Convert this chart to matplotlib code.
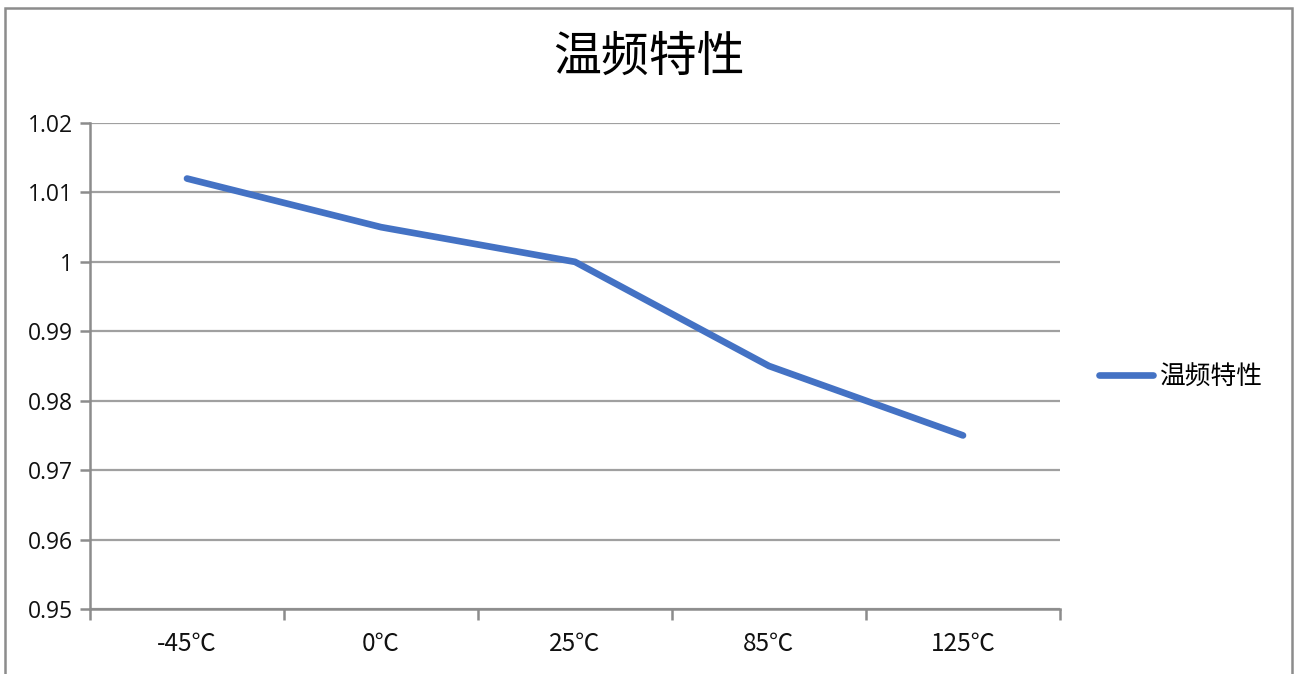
import matplotlib
matplotlib.use("Agg")
import matplotlib.pyplot as plt
from matplotlib.patches import Rectangle
import numpy as np

categories = ["-45℃", "0℃", "25℃", "85℃", "125℃"]
values = [1.012, 1.005, 1.000, 0.985, 0.975]
series_name = "温频特性"
title = "温频特性"
yticks = [0.95, 0.96, 0.97, 0.98, 0.99, 1.00, 1.01, 1.02]
ytick_labels = ["0.95", "0.96", "0.97", "0.98", "0.99", "1", "1.01", "1.02"]

plt.rcParams['font.family'] = ['Noto Sans CJK SC', 'DejaVu Sans']

W, H = 1301, 674
fig = plt.figure(figsize=(W / 100, H / 100), dpi=100)
fig.patch.set_facecolor("white")

# outer border
fig.patches.append(Rectangle((5 / W, -0.02), (1292 - 5) / W, 1 - 8 / H + 0.02,
                             transform=fig.transFigure, fill=False,
                             edgecolor="#8c8c8c", linewidth=1.8))

ax = fig.add_axes([90 / W, 1 - 609 / H, (1060 - 90) / W, (609 - 123) / H])
x = np.arange(len(categories))
ax.plot(x, values, color="#4472C4", linewidth=4.8, solid_capstyle="round",
        solid_joinstyle="round", label=series_name, zorder=3)

ax.set_xlim(-0.5, len(categories) - 0.5)
ax.set_ylim(yticks[0], yticks[-1])
ax.set_yticks(yticks)
ax.set_yticklabels(ytick_labels, family=['Open Sans', 'DejaVu Sans'], fontsize=16.5)
ax.set_xticks(x)
ax.set_xticklabels(categories, fontsize=17.5, family=['Noto Sans CJK SC', 'DejaVu Sans'])
ax.set_xticks(np.arange(len(categories) + 1) - 0.5, minor=True)
ax.tick_params(axis='x', which='major', length=0, pad=16, labelcolor="#111111")
ax.tick_params(axis='x', which='minor', length=8, width=1.8, color="#8c8c8c", direction='out')
ax.tick_params(axis='y', length=7, width=1.8, color="#8c8c8c", direction='out', pad=5,
               labelcolor="#111111")

ax.grid(axis='y', color="#a0a0a0", linewidth=1.6)
ax.set_axisbelow(True)
for s in ["top", "right"]:
    ax.spines[s].set_visible(False)
for s in ["left", "bottom"]:
    ax.spines[s].set_color("#8c8c8c")
    ax.spines[s].set_linewidth(1.8)

fig.text(649 / W, 1 - 57 / H, title, ha='center', va='center', fontsize=34.5,
         fontweight='medium', color="#000000")

leg = ax.legend(loc='center left', bbox_to_anchor=(1089 / W, 1 - 377 / H),
                bbox_transform=fig.transFigure, frameon=False, fontsize=18.5,
                handlelength=2.1, handletextpad=0.25, borderaxespad=0)

fig.savefig("out.png", dpi=100, facecolor="white")
